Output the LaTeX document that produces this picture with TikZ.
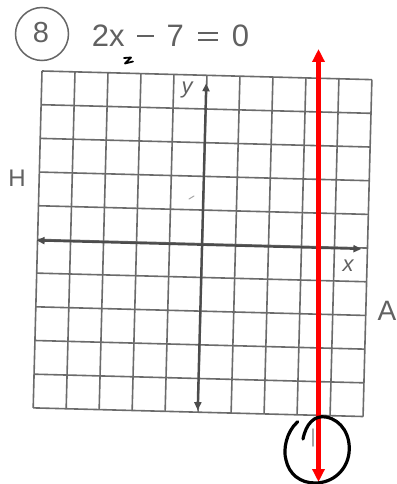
\documentclass[tikz,border=0pt]{standalone}
\usepackage{fontspec}
\setmainfont{Liberation Sans}
\usetikzlibrary{arrows.meta}
\newcommand{\mminus}{\rule[9.5pt]{17pt}{2.3pt}}
\newcommand{\mequals}{\rlap{\rule[5.6pt]{20pt}{2.3pt}}\rule[13pt]{20pt}{2.3pt}}
\begin{document}
\begin{tikzpicture}[x=1pt,y=-1pt,
  gridline/.style={draw=black!58, line width=1.6pt},
  axisline/.style={draw=black!70, line width=2.3pt, {Triangle[length=8pt,width=7pt]}-{Triangle[length=8pt,width=7pt]}},
  printed/.style={text=black!62, inner sep=0pt},
  redline/.style={draw=red, line width=4.8pt, {Triangle[length=13pt,width=12pt]}-{Triangle[length=13pt,width=12pt]}},
  ink/.style={draw=black, line width=3.2pt, line cap=round, line join=round},
  faint/.style={draw=black!35, line width=1.6pt, line cap=round}]
\useasboundingbox (0,0) rectangle (396,484);
\fill[white] (0,0) rectangle (396,484);

% title
\node[printed, font=\fontsize{29}{29}\selectfont] (num) at (41,33) {8};
\draw[draw=black!60, line width=1.5pt] (42,34) circle [radius=26.5];
\node[printed, anchor=base west, font=\fontsize{31}{31}\selectfont] (eq) at (91.7,47)
  {2x\hspace{12.5pt}{\color{black!62}\mminus}\hspace{12.5pt}7\hspace{14.5pt}{\color{black!62}\mequals}\hspace{13.5pt}0};
\draw[ink, line width=1.8pt] (124,58) -- (131,57.5) -- (125,63.5) -- (133,61.5);

% grid (slightly rotated scan)
\begin{scope}[shift={(42,71)}, rotate=-1.5]
  \foreach \i in {0,...,10} {
    \draw[gridline] (33*\i,0) -- (33*\i,337);
    \draw[gridline] (0,33.7*\i) -- (330,33.7*\i);
  }
  \coordinate (xl) at (-1,169.5);
  \coordinate (xr) at (324,169.5);
  \coordinate (yt) at (164.5,8);
  \coordinate (yb) at (164.5,335);
  \draw[axisline] (xl) -- (xr);
  \draw[axisline] (yb) -- (yt);
\end{scope}

\node[printed, font=\fontsize{22}{22}\selectfont\itshape] (ylab) at (187,90) {y};
\node[printed, font=\fontsize{22}{22}\selectfont\itshape] (xlab) at (348,266) {x};
\node[printed, font=\fontsize{24}{24}\selectfont] (hlab) at (17,178) {H};
\node[printed, font=\fontsize{28}{28}\selectfont] (alab) at (387,311) {A};

% faint marks
\draw[faint, line width=1pt] (189,199) -- (194,196);
\draw[faint] (313,429) -- (313,446);

% red line
\coordinate (rtop) at (318.5,49);
\coordinate (rbot) at (318.5,482);
\draw[redline] (rbot) -- (rtop);

% hand-drawn circle
\draw[ink] (297.7,421.7) .. controls (286,432) and (283,450) .. (286,460)
  .. controls (289,474) and (300,483) .. (315,483)
  .. controls (333,483) and (347,470) .. (349,453)
  .. controls (351,436) and (342,420) .. (326,417)
  .. controls (314,415) and (306,424) .. (303,439);
\end{tikzpicture}
\end{document}
